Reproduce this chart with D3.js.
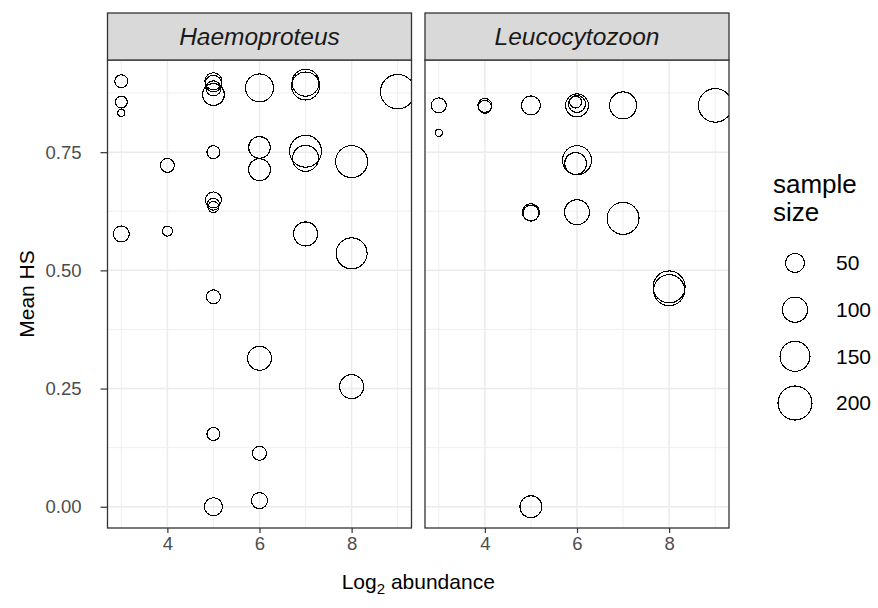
<!DOCTYPE html>
<html>
<head>
<meta charset="utf-8">
<script src="https://cdn.jsdelivr.net/npm/d3@7"></script>
<style>
  html, body { margin: 0; padding: 0; background: #fff; }
  svg { display: block; font-family: "Liberation Sans", Arial, sans-serif; }
</style>
</head>
<body>
<svg id="chart" width="878" height="608"></svg>
<script>
// Facet names
const parasites = ["Haemoproteus", "Leucocytozoon"];

// Haemoproteus lineages: log2 abundance, mean HS, sample size
const haemoAbundance = [3, 3, 3, 5, 5, 5, 5, 6, 7, 7, 9,
                        4, 5, 6, 6, 7, 7, 8,
                        5, 5, 5, 3, 4, 7, 8, 5,
                        6, 8, 5, 6, 5, 6];
const haemoHS = [0.900, 0.856, 0.833, 0.900, 0.895, 0.885, 0.872, 0.886, 0.897, 0.890, 0.878,
                 0.722, 0.750, 0.760, 0.713, 0.752, 0.737, 0.730,
                 0.649, 0.640, 0.634, 0.577, 0.583, 0.577, 0.536, 0.444,
                 0.314, 0.254, 0.154, 0.113, 0.000, 0.013];
const haemoN = [18, 14, 2, 38, 35, 27, 72, 128, 118, 128, 205,
                22, 18, 70, 72, 174, 108, 174,
                32, 14, 11, 32, 8, 89, 162, 22,
                89, 89, 18, 22, 44, 32];

// Leucocytozoon lineages: log2 abundance, mean HS, sample size
const leucoAbundance = [3, 3, 4, 4, 5, 6, 6, 5.97, 7, 9,
                        6, 5.97, 5, 5, 6, 7, 8, 8, 5];
const leucoHS = [0.849, 0.791, 0.849, 0.846, 0.849, 0.849, 0.852, 0.856, 0.849, 0.849,
                 0.733, 0.726, 0.623, 0.621, 0.623, 0.610, 0.465, 0.458, 0.000];
const leucoN = [27, 2, 22, 18, 50, 80, 38, 14, 118, 195,
                139, 72, 38, 32, 98, 174, 174, 162, 72];

// Axis ticks and legend breaks
const xTicks = [4, 6, 8];
const xMinor = [3, 5, 7, 9];
const yTicks = [0, 0.25, 0.5, 0.75];
const yTickLabels = ["0.00", "0.25", "0.50", "0.75"];
const yMinor = [0.125, 0.375, 0.625, 0.875];
const sizeBreaks = [50, 100, 150, 200];

const panelData = parasites.map(p => ({ name: p }));
panelData[0].points = haemoAbundance.map((a, i) => ({ x: a, y: haemoHS[i], n: haemoN[i] }));
panelData[1].points = leucoAbundance.map((a, i) => ({ x: a, y: leucoHS[i], n: leucoN[i] }));

// Layout
const panelW = 304, panelH = 468;
const panelTop = 60, stripH = 47;
const panelLefts = [107.5, 425];

const svg = d3.select("#chart");

const x = d3.scaleLinear().domain([2.7, 9.3]).range([0, panelW]);
const y = d3.scaleLinear().domain([-0.045, 0.945]).range([panelH, 0]);
const r = d3.scaleSqrt().domain([0, 200]).range([2, 17]);

const gridCol = "#EBEBEB";
const borderCol = "#333333";
const font = "Liberation Sans, Arial, sans-serif";

panelData.forEach((pd, pi) => {
  const g = svg.append("g").attr("transform", `translate(${panelLefts[pi]},${panelTop})`);

  // clip for points
  svg.append("clipPath").attr("id", "clip" + pi)
    .append("rect").attr("width", panelW).attr("height", panelH);

  // minor grid
  g.selectAll(".gxm").data(xMinor).join("line")
    .attr("x1", d => x(d)).attr("x2", d => x(d)).attr("y1", 0).attr("y2", panelH)
    .attr("stroke", gridCol).attr("stroke-width", 0.8);
  g.selectAll(".gym").data(yMinor).join("line")
    .attr("y1", d => y(d)).attr("y2", d => y(d)).attr("x1", 0).attr("x2", panelW)
    .attr("stroke", gridCol).attr("stroke-width", 0.8);
  // major grid
  g.selectAll(".gx").data(xTicks).join("line")
    .attr("x1", d => x(d)).attr("x2", d => x(d)).attr("y1", 0).attr("y2", panelH)
    .attr("stroke", gridCol).attr("stroke-width", 1.5);
  g.selectAll(".gy").data(yTicks).join("line")
    .attr("y1", d => y(d)).attr("y2", d => y(d)).attr("x1", 0).attr("x2", panelW)
    .attr("stroke", gridCol).attr("stroke-width", 1.5);

  // points (hollow circles sized by sample size)
  g.append("g").attr("clip-path", `url(#clip${pi})`)
    .selectAll("circle").data(pd.points).join("circle")
    .attr("cx", d => x(d.x)).attr("cy", d => y(d.y)).attr("r", d => r(d.n))
    .attr("fill", "none").attr("stroke", "#000").attr("stroke-width", 1.1)
    .attr("shape-rendering", "crispEdges");

  // panel border
  g.append("rect").attr("width", panelW).attr("height", panelH)
    .attr("fill", "none").attr("stroke", borderCol).attr("stroke-width", 1.3);

  // strip
  const s = svg.append("g").attr("transform", `translate(${panelLefts[pi]},${panelTop - stripH})`);
  s.append("rect").attr("width", panelW).attr("height", stripH)
    .attr("fill", "#D9D9D9").attr("stroke", borderCol).attr("stroke-width", 1.3);
  s.append("text").attr("x", panelW / 2).attr("y", stripH / 2).attr("dy", "0.35em")
    .attr("text-anchor", "middle").attr("font-style", "italic")
    .attr("font-size", 24.5).attr("fill", "#1A1A1A").text(pd.name);

  // x axis
  const xa = svg.append("g").attr("transform", `translate(${panelLefts[pi]},${panelTop + panelH})`)
    .call(d3.axisBottom(x).tickValues(xTicks).tickSize(5).tickPadding(4).tickFormat(d3.format("d")));
  xa.select(".domain").remove();
  xa.selectAll(".tick line").attr("stroke", borderCol).attr("stroke-width", 1.2);
  xa.selectAll(".tick text").attr("font-size", 18.5).attr("fill", "#4D4D4D")
    .attr("font-family", font);

  // y axis on the first panel only
  if (pi === 0) {
    const ya = svg.append("g").attr("transform", `translate(${panelLefts[pi]},${panelTop})`)
      .call(d3.axisLeft(y).tickValues(yTicks).tickSize(7).tickPadding(19)
        .tickFormat((d, i) => yTickLabels[i]));
    ya.select(".domain").remove();
    ya.selectAll(".tick line").attr("stroke", borderCol).attr("stroke-width", 1.2);
    ya.selectAll(".tick text").attr("font-size", 18.5).attr("fill", "#4D4D4D")
      .attr("font-family", font);
  }
});

// axis titles
const xTitle = svg.append("text")
  .attr("x", (panelLefts[0] + panelLefts[1] + panelW) / 2).attr("y", 589)
  .attr("text-anchor", "middle").attr("font-size", 21).attr("fill", "#000");
xTitle.append("tspan").text("Log");
xTitle.append("tspan").attr("font-size", 15).attr("dy", 5).text("2");
xTitle.append("tspan").attr("dy", -5).text(" abundance");

svg.append("text")
  .attr("transform", `translate(34,${panelTop + panelH / 2}) rotate(-90)`)
  .attr("text-anchor", "middle").attr("font-size", 21).attr("fill", "#000")
  .text("Mean HS");

// size legend
const lg = svg.append("g");
lg.append("text").attr("x", 773).attr("y", 193).attr("font-size", 26).text("sample");
lg.append("text").attr("x", 773).attr("y", 221).attr("font-size", 26).text("size");
const keyY = d3.scalePoint().domain(sizeBreaks).range([263, 403]);
lg.selectAll("circle").data(sizeBreaks).join("circle")
  .attr("cx", 795).attr("cy", d => keyY(d)).attr("r", d => r(d))
  .attr("fill", "none").attr("stroke", "#000").attr("stroke-width", 1.1)
  .attr("shape-rendering", "crispEdges");
lg.selectAll(".lab").data(sizeBreaks).join("text")
  .attr("x", 836).attr("y", d => keyY(d)).attr("dy", "0.35em")
  .attr("font-size", 21).attr("fill", "#000").text(d => d);
</script>
</body>
</html>
